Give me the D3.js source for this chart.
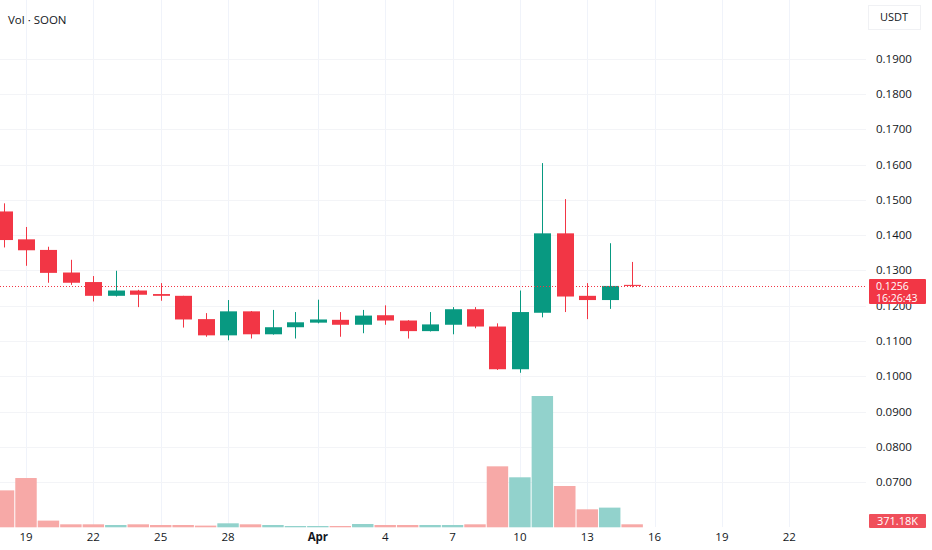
<!DOCTYPE html>
<html><head><meta charset="utf-8">
<script src="https://cdn.jsdelivr.net/npm/d3@7"></script>
<style>
html,body{margin:0;padding:0;background:#fff;}
svg{display:block;font-family:"Open Sans","Noto Sans",sans-serif;}
</style></head>
<body><svg id="c" width="932" height="550"></svg>
<script>
// ---- data ----
const dates = ["2025-03-18","2025-03-19","2025-03-20","2025-03-21","2025-03-22","2025-03-23","2025-03-24","2025-03-25","2025-03-26","2025-03-27","2025-03-28","2025-03-29","2025-03-30","2025-03-31","2025-04-01","2025-04-02","2025-04-03","2025-04-04","2025-04-05","2025-04-06","2025-04-07","2025-04-08","2025-04-09","2025-04-10","2025-04-11","2025-04-12","2025-04-13","2025-04-14","2025-04-15"];
const opens  = [0.1467,0.1388,0.1358,0.1294,0.1267,0.1228,0.1243,0.1233,0.1228,0.1162,0.1116,0.1184,0.1119,0.1139,0.1152,0.1160,0.1146,0.1173,0.1158,0.1128,0.1146,0.1190,0.1141,0.1020,0.1180,0.1405,0.1228,0.1216,0.1259];
const highs  = [0.1490,0.1423,0.1367,0.1330,0.1284,0.1299,0.1245,0.1264,0.1228,0.1179,0.1216,0.1185,0.1188,0.1182,0.1217,0.1182,0.1188,0.1201,0.1159,0.1182,0.1196,0.1196,0.1150,0.1243,0.1604,0.1502,0.1264,0.1377,0.1324];
const lows   = [0.1365,0.1313,0.1265,0.1259,0.1212,0.1226,0.1196,0.1214,0.1138,0.1112,0.1102,0.1107,0.1118,0.1107,0.1150,0.1112,0.1122,0.1146,0.1107,0.1127,0.1119,0.1136,0.1018,0.1010,0.1167,0.1182,0.1162,0.1191,0.1252];
const closes = [0.1386,0.1357,0.1293,0.1265,0.1228,0.1243,0.1231,0.1228,0.1161,0.1116,0.1184,0.1119,0.1139,0.1153,0.1161,0.1146,0.1172,0.1158,0.1128,0.1147,0.1190,0.1141,0.1020,0.1182,0.1405,0.1226,0.1216,0.1256,0.1256];
const volumesK = [4580,6110,830,370,370,285,370,285,285,210,495,370,285,160,160,160,410,285,285,285,285,370,7560,6200,16280,5120,2230,2440,371.18];
const priceTicks = [0.07,0.08,0.09,0.10,0.11,0.12,0.13,0.14,0.15,0.16,0.17,0.18,0.19];
const timeTicks = ["2025-03-19","2025-03-22","2025-03-25","2025-03-28","2025-04-01","2025-04-04","2025-04-07","2025-04-10","2025-04-13","2025-04-16","2025-04-19","2025-04-22"];
const lastPrice = 0.1256;
const lastVolumeLabel = "371.18K";
const countdown = "16:26:43";
const title = "Vol · SOON";
const currency = "USDT";

// ---- layout ----
const RED = "#F23645", GREEN = "#089981";
const RED_V = "#f7a9a7", GREEN_V = "#92d2cc";
const parse = d3.utcParse("%Y-%m-%d");
const svg = d3.select("#c");
const plotRight = 866;

const x = d3.scaleUtc().domain([parse("2025-03-19"), parse("2025-04-22")]).range([26, 789.3]);
const y = d3.scaleLinear().domain([0.07, 0.19]).range([482.2, 58.6]);
const yv = d3.scaleLinear().domain([0, 16280]).range([527.3, 396]);
const day = x(parse("2025-03-20")) - x(parse("2025-03-19"));

const data = dates.map((d,i)=>({t:parse(d),o:opens[i],h:highs[i],l:lows[i],c:closes[i],v:volumesK[i]}));

// grid
const g = svg.append("g");
g.selectAll("line.vg").data(timeTicks).join("line")
  .attr("x1",d=>Math.round(x(parse(d)))+0.5).attr("x2",d=>Math.round(x(parse(d)))+0.5)
  .attr("y1",0).attr("y2",527).attr("stroke","#f0f3fa").attr("stroke-width",1);
g.selectAll("line.hg").data(priceTicks).join("line")
  .attr("x1",0).attr("x2",plotRight)
  .attr("y1",d=>Math.round(y(d))+0.5).attr("y2",d=>Math.round(y(d))+0.5)
  .attr("stroke","#f3f4f7").attr("stroke-width",1);

// volume bars
svg.append("g").selectAll("rect").data(data).join("rect")
  .attr("x",d=>x(d.t)-day/2+0.5).attr("width",day-1)
  .attr("y",d=>yv(d.v)).attr("height",d=>yv(0)-yv(d.v))
  .attr("fill",d=>d.c>=d.o?GREEN_V:RED_V);

// candles
const cg = svg.append("g").selectAll("g").data(data).join("g");
cg.append("line")
  .attr("x1",d=>Math.round(x(d.t))+0.5).attr("x2",d=>Math.round(x(d.t))+0.5)
  .attr("y1",d=>y(d.h)).attr("y2",d=>y(d.l))
  .attr("stroke",d=>d.c>=d.o?GREEN:RED).attr("stroke-width",1);
cg.append("rect")
  .attr("x",d=>Math.round(x(d.t))-8).attr("width",17)
  .attr("y",d=>y(Math.max(d.o,d.c)))
  .attr("height",d=>Math.max(1,Math.abs(y(d.o)-y(d.c))))
  .attr("fill",d=>d.c>=d.o?GREEN:RED);

// last price dotted line
svg.append("line").attr("x1",0).attr("x2",plotRight)
  .attr("y1",Math.round(y(lastPrice))+0.5).attr("y2",Math.round(y(lastPrice))+0.5)
  .attr("stroke",RED).attr("stroke-width",1).attr("stroke-dasharray","1,2");

// right axis labels
svg.append("g").selectAll("text").data(priceTicks).join("text")
  .attr("x",876).attr("y",d=>y(d)).attr("dy","0.35em")
  .attr("font-size",11.5).attr("fill","#131722")
  .text(d=>d.toFixed(4));

// bottom axis labels
const fmt = d=>{const t=parse(d); return t.getUTCDate()===1? d3.utcFormat("%b")(t) : String(t.getUTCDate());};
svg.append("g").selectAll("text").data(timeTicks).join("text")
  .attr("x",d=>x(parse(d))).attr("y",541).attr("text-anchor","middle")
  .attr("font-size",11.5).attr("fill","#131722")
  .attr("font-weight",d=>parse(d).getUTCDate()===1?"700":"400")
  .text(fmt);

// last price badge
const by = Math.round(y(lastPrice));
svg.append("rect").attr("x",869).attr("y",by-7).attr("width",57).attr("height",25).attr("rx",1).attr("fill",RED);
svg.append("text").attr("x",876).attr("y",by).attr("dy","0.35em").attr("font-size",10.5).attr("fill","#fff").text(lastPrice.toFixed(4));
svg.append("text").attr("x",876).attr("y",by+12).attr("dy","0.35em").attr("font-size",10.5).attr("fill","#fff").text(countdown);

// volume badge
const vy = 521;
svg.append("rect").attr("x",869).attr("y",vy-7).attr("width",57).attr("height",14).attr("rx",1).attr("fill","#f04f5b");
svg.append("text").attr("x",897.5).attr("y",vy).attr("dy","0.35em").attr("text-anchor","middle").attr("font-size",11).attr("fill","#fff").text(lastVolumeLabel);

// title & currency
svg.append("text").attr("x",8).attr("y",20).attr("dy","0.35em").attr("font-size",11.5).attr("fill","#131722").text(title);
svg.append("rect").attr("x",868.5).attr("y",5.5).attr("width",52).attr("height",24).attr("fill","#fff").attr("stroke","#f0f1f4");
svg.append("text").attr("x",894).attr("y",17.5).attr("dy","0.35em").attr("text-anchor","middle").attr("font-size",11).attr("fill","#131722").text(currency);
</script></body></html>
